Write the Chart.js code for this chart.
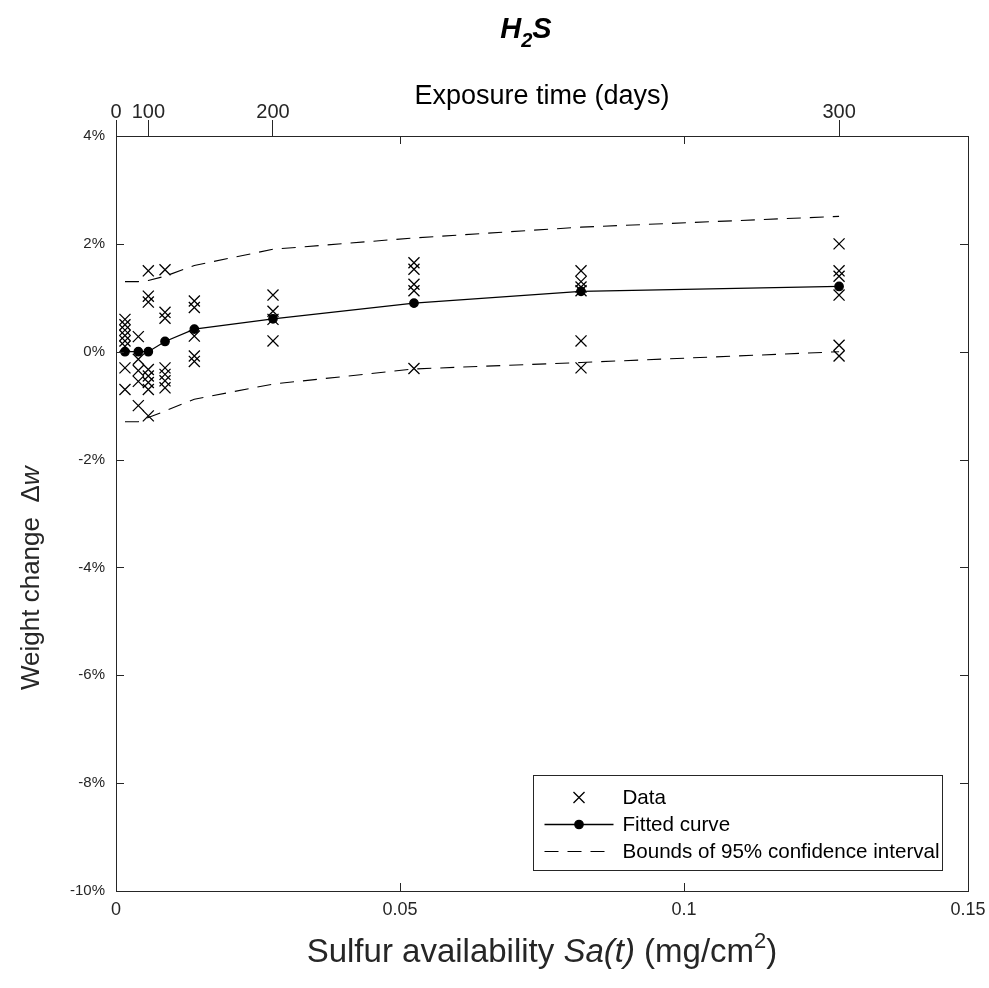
<!DOCTYPE html>
<html><head><meta charset="utf-8">
<script src="https://cdn.jsdelivr.net/npm/chart.js@4.4.1/dist/chart.umd.min.js"></script>
<style>html,body{margin:0;padding:0;background:#fff;}#wrap{width:989px;height:988px;}</style>
</head><body><div id="wrap"><canvas id="c" width="989" height="988"></canvas></div>
<script>
// ---- data ----
const fitSa  = [0.00158, 0.00393, 0.00569, 0.00863, 0.01379, 0.02764, 0.05246, 0.08187, 0.1273];
const fitW   = [0, 0, 0, 0.19, 0.42, 0.61, 0.90, 1.12, 1.21];
const upperW = [1.3, 1.3, 1.32, 1.40, 1.60, 1.90, 2.11, 2.31, 2.51];
const lowerW = [-1.3, -1.3, -1.22, -1.10, -0.88, -0.60, -0.32, -0.20, 0.0];
const dataSa = fitSa;
const dataW = [
  [0.6, 0.5, 0.4, 0.3, 0.2, 0.1, -0.3, -0.7],
  [0.28, -0.14, -0.35, -0.55, -1.0],
  [1.5, 1.03, 0.92, -0.33, -0.45, -0.57, -0.70, -1.19],
  [1.52, 0.73, 0.62, -0.30, -0.42, -0.54, -0.67],
  [0.94, 0.82, 0.29, -0.08, -0.18],
  [1.05, 0.75, 0.6, 0.2],
  [1.65, 1.53, 1.25, 1.13, -0.31],
  [1.5, 1.3, 1.2, 1.13, 0.2, -0.3],
  [2.0, 1.5, 1.4, 1.05, 0.12, -0.08]
];
const dayTicks   = [0, 100, 200, 300];
const dayTickSa  = [0, 0.00569, 0.02764, 0.1273];
const xTickVals  = [0, 0.05, 0.1, 0.15];
const yTickVals  = [-10, -8, -6, -4, -2, 0, 2, 4];

// text pieces (mixed styles: [text, style])
const titleParts  = [['H', 'main'], ['2', 'sub'], ['S', 'main']];
const xTitleParts = [['Sulfur availability ', 'n'], ['Sa(t)', 'i'], [' (mg/cm', 'n'], ['2', 'sup'], [')', 'n']];
const yTitleParts = [['Weight change  \u0394', 'n'], ['w', 'i']];
const topTitle = 'Exposure time (days)';
const seriesLabels = ['Data', 'Fitted curve', 'Bounds of 95% confidence interval'];

// ---- build datasets ----
const scatterPts = [];
dataW.forEach((col, i) => col.forEach(w => scatterPts.push({x: dataSa[i], y: w})));
const toPts = arr => arr.map((w, i) => ({x: fitSa[i], y: w}));

const AX = '#262626';
const FONT = "'Liberation Sans', Arial, sans-serif";

function drawRuns(ctx, parts, fonts, x, y, align) {
  let total = 0;
  parts.forEach(([t, s]) => { ctx.font = fonts[s].f; total += ctx.measureText(t).width; });
  let cx = align === 'center' ? x - total / 2 : x;
  ctx.textAlign = 'left'; ctx.textBaseline = 'alphabetic';
  parts.forEach(([t, s]) => {
    ctx.font = fonts[s].f;
    ctx.fillText(t, cx, y + (fonts[s].dy || 0));
    cx += ctx.measureText(t).width;
  });
}

const framePlugin = {
  id: 'frame',
  afterDatasetsDraw(chart) {
    const {ctx, chartArea: a, scales} = chart;
    ctx.save();
    ctx.strokeStyle = AX; ctx.lineWidth = 1;
    ctx.strokeRect(Math.round(a.left) + 0.5, Math.round(a.top) + 0.5, Math.round(a.right - a.left), Math.round(a.bottom - a.top));
    const TL = 8;
    ctx.beginPath();
    scales.x.ticks.forEach(t => {
      const px = Math.round(scales.x.getPixelForValue(t.value)) + 0.5;
      ctx.moveTo(px, a.bottom); ctx.lineTo(px, a.bottom - TL);
      ctx.moveTo(px, a.top); ctx.lineTo(px, a.top + TL);
    });
    scales.y.ticks.forEach(t => {
      const py = Math.round(scales.y.getPixelForValue(t.value)) + 0.5;
      ctx.moveTo(a.left, py); ctx.lineTo(a.left + TL, py);
      ctx.moveTo(a.right, py); ctx.lineTo(a.right - TL, py);
    });
    ctx.stroke();
    ctx.restore();
  },
  afterDraw(chart) {
    const {ctx, chartArea: a} = chart;
    const ds = chart.data.datasets;
    ctx.save();
    // main title
    ctx.fillStyle = '#000';
    drawRuns(ctx, titleParts, {
      main: {f: 'italic bold 29px ' + FONT},
      sub:  {f: 'italic bold 20px ' + FONT, dy: 9}
    }, 526, 38, 'center');
    // x title
    ctx.fillStyle = AX;
    drawRuns(ctx, xTitleParts, {
      n:   {f: '33px ' + FONT},
      i:   {f: 'italic 33px ' + FONT},
      sup: {f: '22px ' + FONT, dy: -14}
    }, (a.left + a.right) / 2, 962, 'center');
    // y title (rotated)
    ctx.save();
    ctx.translate(39, 690);
    ctx.rotate(-Math.PI / 2);
    drawRuns(ctx, yTitleParts, {
      n: {f: '26px ' + FONT},
      i: {f: 'italic 26px ' + FONT}
    }, 0, 0, 'left');
    ctx.restore();

    // legend
    const w = 409, h = 95;
    const x0 = Math.round(a.right - 26 - w) + 0.5, y0 = Math.round(a.bottom - 21 - h) + 0.5;
    ctx.fillStyle = '#fff';
    ctx.fillRect(x0, y0, w, h);
    ctx.strokeStyle = AX; ctx.lineWidth = 1;
    ctx.strokeRect(x0, y0, w, h);
    const rows = [y0 + 22, y0 + 49, y0 + 76];
    const sx0 = x0 + 11, sx1 = x0 + 80, sxc = (sx0 + sx1) / 2;
    [ds[0], ds[1], ds[2]].forEach((d, i) => {
      const y = rows[i];
      ctx.strokeStyle = d.borderColor; ctx.fillStyle = d.backgroundColor;
      ctx.lineWidth = d.borderWidth;
      if (d.showLine) {
        ctx.setLineDash(d.borderDash || []);
        ctx.beginPath(); ctx.moveTo(sx0, y); ctx.lineTo(sx1, y); ctx.stroke();
        ctx.setLineDash([]);
      }
      if (d.pointRadius > 0) {
        Chart.helpers.drawPoint(ctx, {pointStyle: d.pointStyle, radius: d.pointRadius, borderWidth: d.pointBorderWidth || d.borderWidth, rotation: 0}, sxc, y);
      }
      ctx.fillStyle = '#000';
      ctx.font = '20.6px ' + FONT;
      ctx.textBaseline = 'middle'; ctx.textAlign = 'left';
      ctx.fillText(d.label, x0 + 89, y + 1);
    });
    ctx.restore();
  }
};

new Chart(document.getElementById('c'), {
  type: 'scatter',
  data: {
    datasets: [
      { label: seriesLabels[0], data: scatterPts, showLine: false, pointStyle: 'crossRot', pointRadius: 7.8, pointHoverRadius: 7.8,
        borderColor: '#000', backgroundColor: '#000', borderWidth: 1.3, pointBorderWidth: 1.3 },
      { label: seriesLabels[1], data: toPts(fitW), showLine: true, pointStyle: 'circle', pointRadius: 4.2, pointHoverRadius: 4.2,
        borderColor: '#000', backgroundColor: '#000', borderWidth: 1.3, tension: 0 },
      { label: seriesLabels[2], data: toPts(upperW), showLine: true, pointRadius: 0, borderDash: [14, 9],
        borderColor: '#000', backgroundColor: '#000', borderWidth: 1.1, tension: 0 },
      { label: '', data: toPts(lowerW), showLine: true, pointRadius: 0, borderDash: [14, 9],
        borderColor: '#000', backgroundColor: '#000', borderWidth: 1.1, tension: 0 }
    ]
  },
  options: {
    responsive: false, animation: false, devicePixelRatio: 1,
    layout: { padding: { left: 0, right: 21, top: 0, bottom: 0 } },
    plugins: { legend: { display: false }, tooltip: { enabled: false }, title: { display: false } },
    scales: {
      x: {
        type: 'linear', position: 'bottom', min: 0, max: 0.15,
        afterBuildTicks: s => { s.ticks = xTickVals.map(v => ({value: v})); },
        afterFit: s => { s.height = 97; s.paddingLeft = 0; s.paddingRight = 0; },
        grid: { display: false, drawTicks: false },
        border: { display: false },
        ticks: { color: AX, font: { family: FONT, size: 18 }, padding: 8, maxRotation: 0, autoSkip: false,
          callback: v => String(v) }
      },
      xTop: {
        type: 'linear', position: 'top', min: 0, max: 0.15,
        afterBuildTicks: s => { s.ticks = dayTickSa.map(v => ({value: v})); },
        afterFit: s => { s.height = 136; s.paddingLeft = 0; s.paddingRight = 0; },
        grid: { display: true, drawOnChartArea: false, drawTicks: true, tickLength: 16, color: AX, lineWidth: 1 },
        border: { display: false },
        ticks: { color: AX, font: { family: FONT, size: 20 }, padding: -4, maxRotation: 0, autoSkip: false,
          callback: (v, i) => String(dayTicks[i]) },
        title: { display: true, text: topTitle, color: '#000', font: { family: FONT, size: 27 }, padding: { top: 80, bottom: 0 } }
      },
      y: {
        type: 'linear', position: 'left', min: -10, max: 4,
        afterBuildTicks: s => { s.ticks = yTickVals.map(v => ({value: v})); },
        afterFit: s => { s.width = 116; s.paddingTop = 0; s.paddingBottom = 0; },
        grid: { display: false, drawTicks: false },
        border: { display: false },
        ticks: { color: AX, font: { family: FONT, size: 15 }, padding: 11, callback: v => v + '%' }
      }
    }
  },
  plugins: [framePlugin]
});
</script></body></html>
